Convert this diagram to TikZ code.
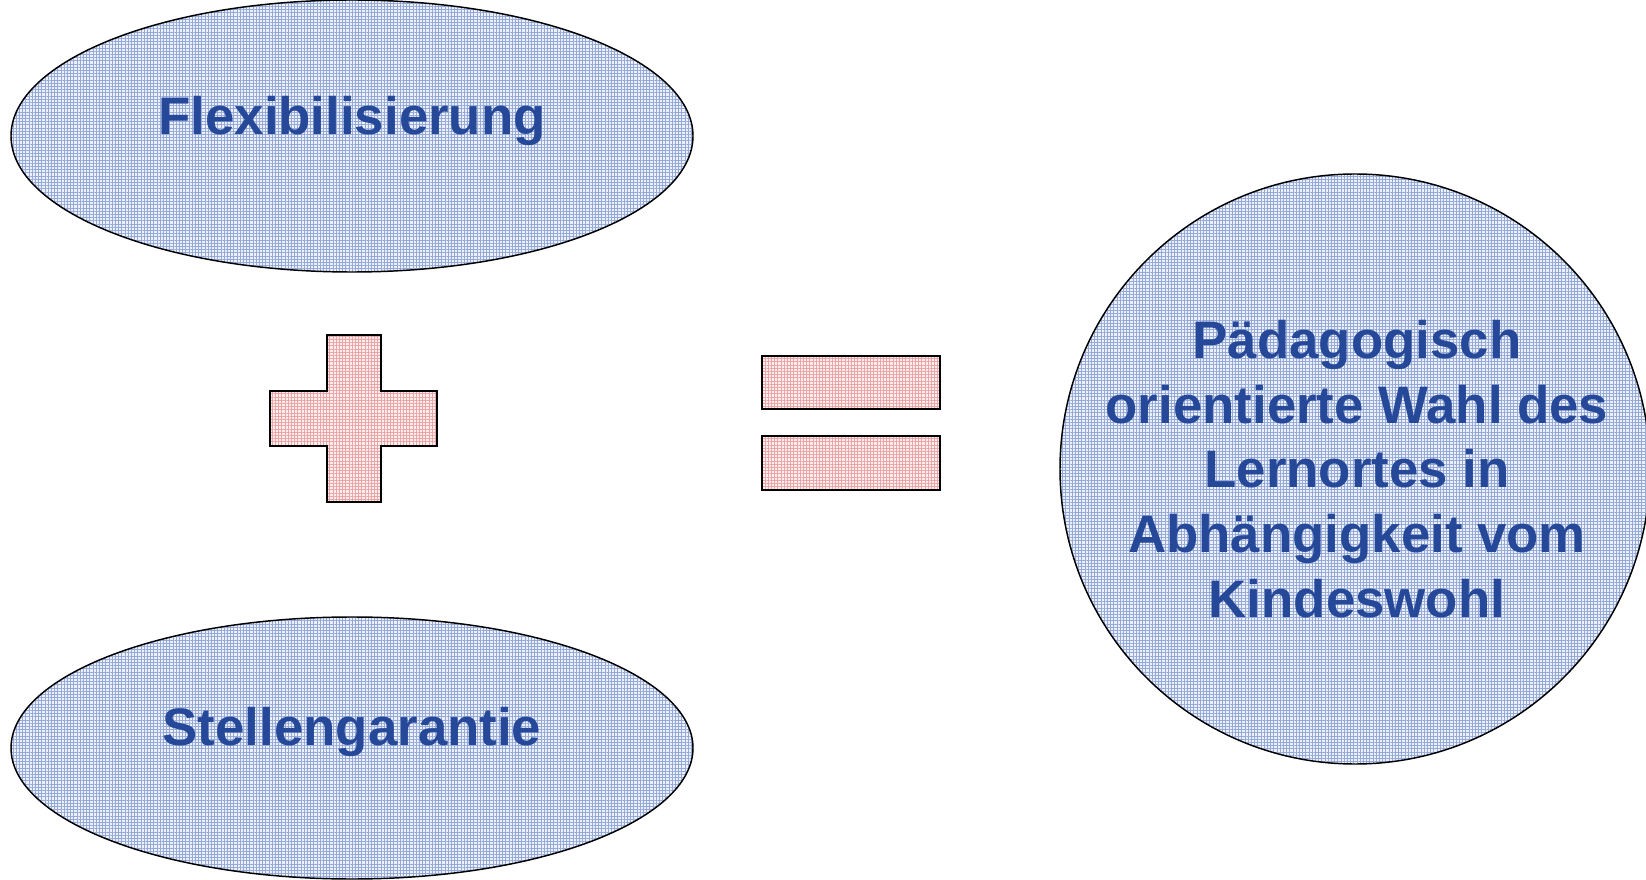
\documentclass[tikz,border=0pt]{standalone}
\usepackage{fontspec}
\setmainfont{Liberation Sans}
\usetikzlibrary{patterns.meta}
\definecolor{txt}{RGB}{38,72,152}
\definecolor{bfill}{RGB}{236,240,249}
\definecolor{bline}{RGB}{148,168,218}
\definecolor{rfill}{RGB}{252,238,238}
\definecolor{rline}{RGB}{235,165,165}
\tikzset{
  bluefill/.style={fill=bfill,
    postaction={pattern={Lines[angle=0,distance=2.4pt,line width=0.45pt]},pattern color=bline},
    postaction={pattern={Lines[angle=90,distance=2.4pt,line width=0.45pt]},pattern color=bline},
    postaction={draw=black, line width=1.1pt}},
  redfill/.style={fill=rfill,
    postaction={pattern={Lines[angle=0,distance=2.4pt,line width=0.4pt]},pattern color=rline},
    postaction={pattern={Lines[angle=90,distance=2.4pt,line width=0.4pt]},pattern color=rline},
    postaction={draw=black, line width=1.6pt}},
  lbl/.style={text=txt, font=\fontsize{39.6pt}{48.5pt}\selectfont\bfseries, inner sep=0pt, align=center}
}
\begin{document}
\begin{tikzpicture}[x=0.75pt,y=-0.75pt]
\useasboundingbox (0,0) rectangle (1646,880);
% ellipses
\path[bluefill] (352,136) ellipse [x radius=341, y radius=136];
\path[bluefill] (352,748) ellipse [x radius=341, y radius=131];
\path[bluefill] (1355,469) circle [radius=295];
% plus
\path[redfill] (327,335) -- (381,335) -- (381,391) -- (437,391) -- (437,446) -- (381,446)
  -- (381,502) -- (327,502) -- (327,446) -- (270,446) -- (270,391) -- (327,391) -- cycle;
% equals
\path[redfill] (762,356) rectangle (940,409);
\path[redfill] (762,436) rectangle (940,490);
% texts
\node[lbl, anchor=base] (flex) at (352,135) {Flexibilisierung};
\node[lbl, anchor=base] (stelle) at (352,745) {Stellengarantie};
\node[lbl, anchor=base] (wahl) at (1357,617) {Pädagogisch\\orientierte Wahl des\\Lernortes in\\Abhängigkeit vom\\Kindeswohl};
\end{tikzpicture}
\end{document}
